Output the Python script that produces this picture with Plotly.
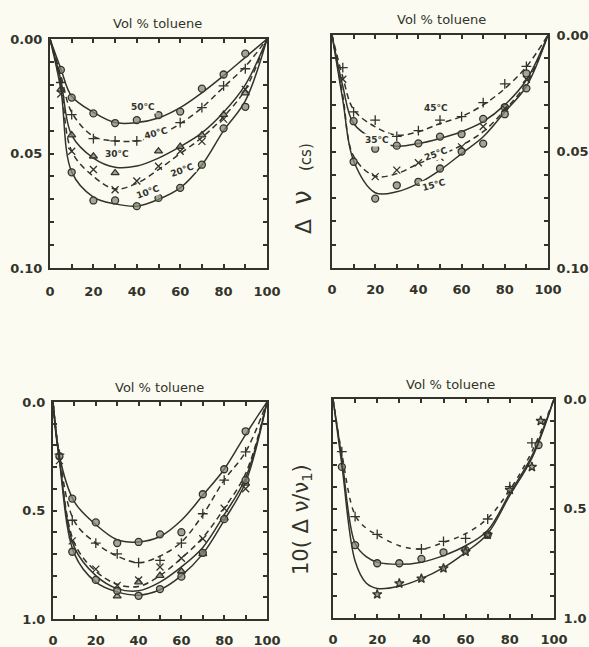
import plotly.graph_objects as go

# ---------------- data ----------------
# Panel A (top-left): delta nu (cs) vs vol % toluene, 10-50 C
xa_curve = [0, 5, 10, 20, 30, 40, 50, 60, 70, 80, 90, 100]
a50_curve = [0, 0.013, 0.025, 0.032, 0.0365, 0.0365, 0.0345, 0.030, 0.0235, 0.016, 0.008, 0]
a40_curve = [0, 0.016, 0.032, 0.0425, 0.0445, 0.0445, 0.042, 0.037, 0.030, 0.021, 0.012, 0]
a30_curve = [0, 0.018, 0.042, 0.052, 0.056, 0.0555, 0.052, 0.047, 0.041, 0.032, 0.020, 0]
a20_curve = [0, 0.020, 0.049, 0.060, 0.0655, 0.063, 0.057, 0.050, 0.043, 0.034, 0.022, 0]
a10_curve = [0, 0.022, 0.058, 0.069, 0.072, 0.073, 0.070, 0.065, 0.055, 0.040, 0.027, 0]

a50_px = [5, 10, 20, 30, 40, 50, 60, 70, 80, 90]
a50_py = [0.0135, 0.0256, 0.0325, 0.0367, 0.0354, 0.0332, 0.0317, 0.0217, 0.0155, 0.0064]
a40_px = [5, 10, 20, 30, 40, 60, 70, 80, 90]
a40_py = [0.019, 0.033, 0.0435, 0.0445, 0.0445, 0.0365, 0.030, 0.0205, 0.013]
a30_px = [5, 10, 20, 30, 50, 60, 70, 80, 90]
a30_py = [0.022, 0.042, 0.0512, 0.0585, 0.049, 0.047, 0.042, 0.033, 0.0236]
a20_px = [5, 10, 20, 30, 40, 50, 60, 70, 80, 90]
a20_py = [0.024, 0.049, 0.057, 0.0658, 0.062, 0.0556, 0.049, 0.0447, 0.035, 0.022]
a10_px = [10, 20, 30, 40, 50, 60, 70, 80, 90]
a10_py = [0.0582, 0.0705, 0.0705, 0.073, 0.0694, 0.065, 0.0549, 0.039, 0.0296]

# Panel B (top-right): delta nu (cs), 15-45 C
xb_curve = [0, 5, 10, 20, 30, 40, 50, 60, 70, 80, 90, 100]
b45_curve = [0, 0.018, 0.032, 0.0394, 0.043, 0.0415, 0.038, 0.035, 0.030, 0.023, 0.0136, 0]
b35_curve = [0, 0.022, 0.038, 0.045, 0.0477, 0.0466, 0.0444, 0.0415, 0.0372, 0.030, 0.0193, 0]
b25_curve = [0, 0.026, 0.052, 0.0606, 0.0595, 0.0552, 0.0516, 0.0473, 0.0415, 0.0322, 0.0208, 0]
b15_curve = [0, 0.028, 0.054, 0.0677, 0.0673, 0.0637, 0.058, 0.0509, 0.0437, 0.033, 0.022, 0]

b45_px = [5, 10, 20, 30, 40, 50, 60, 70, 80, 90]
b45_py = [0.014, 0.033, 0.0365, 0.0435, 0.041, 0.0365, 0.035, 0.0290, 0.021, 0.0135]
b35_px = [10, 20, 30, 40, 50, 60, 70, 80, 90]
b35_py = [0.037, 0.0488, 0.0475, 0.0465, 0.0436, 0.0425, 0.036, 0.031, 0.0165]
b25_px = [5, 20, 30, 40, 50, 60, 70, 80, 90]
b25_py = [0.019, 0.0608, 0.058, 0.0548, 0.0525, 0.048, 0.0393, 0.0315, 0.019]
b15_px = [10, 20, 30, 40, 50, 60, 70, 80, 90]
b15_py = [0.0544, 0.0702, 0.0645, 0.063, 0.0573, 0.050, 0.0466, 0.034, 0.0229]

# Panel C (bottom-left): 10(delta nu / nu1)
xc_curve = [0, 3, 10, 20, 30, 40, 50, 60, 70, 80, 90, 100]
c1_curve = [0, 0.25, 0.46, 0.565, 0.635, 0.645, 0.62, 0.545, 0.43, 0.31, 0.15, 0]
c2_curve = [0, 0.25, 0.55, 0.65, 0.71, 0.74, 0.71, 0.645, 0.52, 0.36, 0.23, 0]
c3_curve = [0, 0.26, 0.65, 0.78, 0.84, 0.85, 0.80, 0.72, 0.625, 0.49, 0.33, 0]
c4_curve = [0, 0.26, 0.67, 0.80, 0.86, 0.87, 0.83, 0.76, 0.67, 0.52, 0.35, 0]
c5_curve = [0, 0.27, 0.70, 0.83, 0.875, 0.89, 0.865, 0.80, 0.70, 0.545, 0.37, 0]

c1_px = [3, 9, 20, 30, 40, 50, 60, 70, 80, 90]
c1_py = [0.25, 0.445, 0.555, 0.65, 0.645, 0.61, 0.60, 0.425, 0.31, 0.135]
c2_px = [3, 9, 20, 30, 40, 50, 60, 70, 80, 90]
c2_py = [0.24, 0.545, 0.65, 0.70, 0.74, 0.73, 0.65, 0.515, 0.36, 0.23]
c3_px = [3, 9, 20, 30, 40, 50, 60, 70, 80, 90]
c3_py = [0.27, 0.64, 0.77, 0.845, 0.82, 0.76, 0.72, 0.63, 0.49, 0.40]
c4_px = [30, 40, 50, 60, 70, 80, 90]
c4_py = [0.895, 0.83, 0.80, 0.78, 0.70, 0.535, 0.375]
c5_px = [9, 20, 30, 40, 50, 60, 70, 80, 90]
c5_py = [0.69, 0.82, 0.87, 0.893, 0.862, 0.805, 0.695, 0.54, 0.36]

# Panel D (bottom-right): 10(delta nu / nu1)
xd_curve = [0, 4, 10, 15, 20, 30, 40, 50, 60, 70, 80, 90, 100]
d1_curve = [0, 0.25, 0.53, 0.59, 0.62, 0.67, 0.685, 0.655, 0.615, 0.545, 0.415, 0.24, 0]
d2_curve = [0, 0.27, 0.66, 0.72, 0.745, 0.755, 0.745, 0.715, 0.67, 0.60, 0.43, 0.26, 0]
d3_curve = [0, 0.30, 0.74, 0.84, 0.865, 0.855, 0.82, 0.77, 0.70, 0.615, 0.44, 0.27, 0]

d1_px = [4, 10, 20, 40, 50, 60, 70, 80, 90]
d1_py = [0.24, 0.537, 0.618, 0.685, 0.65, 0.636, 0.548, 0.40, 0.20]
d2_px = [4, 10, 20, 30, 40, 50, 60, 70, 93]
d2_py = [0.31, 0.667, 0.75, 0.75, 0.73, 0.70, 0.69, 0.62, 0.21]
d3_px = [20, 30, 40, 50, 60, 70, 80, 90, 94]
d3_py = [0.892, 0.842, 0.82, 0.773, 0.697, 0.62, 0.415, 0.31, 0.10]

x_ticks = [0, 10, 20, 30, 40, 50, 60, 70, 80, 90, 100]
x_ticktext = ["0", "", "20", "", "40", "", "60", "", "80", "", "100"]
yab_ticks = [0, 0.01, 0.02, 0.03, 0.04, 0.05, 0.06, 0.07, 0.08, 0.09, 0.10]
yab_ticktext = ["0.00", "", "", "", "", "0.05", "", "", "", "", "0.10"]
ycd_ticks = [0, 0.1, 0.2, 0.3, 0.4, 0.5, 0.6, 0.7, 0.8, 0.9, 1.0]
ycd_ticktext = ["0.0", "", "", "", "", "0.5", "", "", "", "", "1.0"]

title_text = "Vol % toluene"

# ---------------- style ----------------
INK = "#32342b"
PAPER = "#fbfbf2"
W, H = 589, 647
NB = "\u00a0"

fig = go.Figure()

def add_series(xc, yc, px, py, ax, dash, symbol):
    xa = "x" if ax == 1 else f"x{ax}"
    ya = "y" if ax == 1 else f"y{ax}"
    fig.add_trace(go.Scatter(x=xc, y=yc, mode="lines", xaxis=xa, yaxis=ya,
                             line=dict(color=INK, width=1.5, dash=dash, shape="spline", smoothing=1.0),
                             hoverinfo="skip", showlegend=False))
    open_sym = symbol.endswith("-thin")
    fig.add_trace(go.Scatter(x=px, y=py, mode="markers", xaxis=xa, yaxis=ya,
                             marker=dict(symbol=symbol, size=7,
                                         color=INK if open_sym else "rgba(135,137,118,0.75)",
                                         line=dict(color=INK, width=1.3)),
                             showlegend=False))

D = "6px,4px"
add_series(xa_curve, a50_curve, a50_px, a50_py, 1, "solid", "circle")
add_series(xa_curve, a40_curve, a40_px, a40_py, 1, D, "cross-thin")
add_series(xa_curve, a30_curve, a30_px, a30_py, 1, "solid", "triangle-up")
add_series(xa_curve, a20_curve, a20_px, a20_py, 1, D, "x-thin")
add_series(xa_curve, a10_curve, a10_px, a10_py, 1, "solid", "circle")

add_series(xb_curve, b45_curve, b45_px, b45_py, 2, D, "cross-thin")
add_series(xb_curve, b35_curve, b35_px, b35_py, 2, "solid", "circle")
add_series(xb_curve, b25_curve, b25_px, b25_py, 2, D, "x-thin")
add_series(xb_curve, b15_curve, b15_px, b15_py, 2, "solid", "circle")

add_series(xc_curve, c1_curve, c1_px, c1_py, 3, "solid", "circle")
add_series(xc_curve, c2_curve, c2_px, c2_py, 3, D, "cross-thin")
add_series(xc_curve, c3_curve, c3_px, c3_py, 3, D, "x-thin")
add_series(xc_curve, c4_curve, c4_px, c4_py, 3, "solid", "triangle-up")
add_series(xc_curve, c5_curve, c5_px, c5_py, 3, "solid", "circle")

add_series(xd_curve, d1_curve, d1_px, d1_py, 4, "5px,5px", "cross-thin")
add_series(xd_curve, d2_curve, d2_px, d2_py, 4, "solid", "circle")
add_series(xd_curve, d3_curve, d3_px, d3_py, 4, "solid", "star")

tick_font = dict(family="DejaVu Sans", size=13, color=INK, weight="bold")

def xaxis_cfg(x0, x1, standoff):
    return dict(domain=[x0 / W, x1 / W], range=[0, 100], tickvals=x_ticks, ticktext=x_ticktext,
                ticks="inside", ticklen=4, tickwidth=1.5, tickcolor=INK, mirror="ticks",
                showline=True, linewidth=2, linecolor=INK, showgrid=False, zeroline=False,
                tickfont=tick_font, ticklabelstandoff=standoff, fixedrange=True, automargin=False)

def yaxis_cfg(y0, y1, rng, tv, tt, side, standoff, anchor):
    return dict(domain=[1 - y1 / H, 1 - y0 / H], range=rng, tickvals=tv, ticktext=tt, side=side,
                ticks="inside", ticklen=4, tickwidth=1.5, tickcolor=INK, mirror="ticks",
                showline=True, linewidth=2, linecolor=INK, showgrid=False, zeroline=False,
                tickfont=tick_font, ticklabelstandoff=standoff, anchor=anchor, fixedrange=True,
                automargin=False)

fig.update_layout(
    width=W, height=H, margin=dict(l=0, r=0, t=0, b=0, pad=0, autoexpand=False),
    paper_bgcolor=PAPER, plot_bgcolor=PAPER, showlegend=False,
    xaxis=dict(xaxis_cfg(50, 267, 10), anchor="y"),
    yaxis=yaxis_cfg(39, 268, [0.10, 0], yab_ticks, yab_ticktext, "left", 3, "x"),
    xaxis2=dict(xaxis_cfg(332, 548, 8), anchor="y2"),
    yaxis2=yaxis_cfg(35, 268, [0.10, 0], yab_ticks, yab_ticktext, "right", 4, "x2"),
    xaxis3=dict(xaxis_cfg(53, 267, 8), anchor="y3"),
    yaxis3=yaxis_cfg(402, 619, [1.0, 0], ycd_ticks, ycd_ticktext, "left", 3, "x3"),
    xaxis4=dict(xaxis_cfg(333, 554, 8), anchor="y4"),
    yaxis4=yaxis_cfg(399, 618, [1.0, 0], ycd_ticks, ycd_ticktext, "right", 5, "x4"),
)

ann = []
title_font = dict(family="DejaVu Sans", size=13, color=INK)
for cx, cy in [(157, 23), (441, 19), (159, 387), (450, 384)]:
    ann.append(dict(text=title_text, x=cx / W, y=1 - cy / H, xref="paper", yref="paper",
                    xanchor="center", yanchor="middle", showarrow=False, font=title_font))

lab_font = dict(family="DejaVu Sans", size=9, color=INK, weight="bold")
for txt, lx, ly, ang, ax in [("50°C", 43, 0.0297, 0, 1), ("40°C", 49, 0.041, -15, 1),
                             ("30°C", 31, 0.0502, 0, 1), ("20°C", 61, 0.057, -20, 1),
                             ("10°C", 45, 0.0667, -20, 1),
                             ("45°C", 48, 0.0315, 0, 2), ("35°C", 21, 0.045, 0, 2),
                             ("25°C", 48, 0.051, -20, 2), ("15°C", 47, 0.0644, -15, 2)]:
    ann.append(dict(text=txt, x=lx, y=ly, xref="x" if ax == 1 else "x2", yref="y" if ax == 1 else "y2",
                    showarrow=False, textangle=ang, font=lab_font, bgcolor=PAPER))

ann.append(dict(text="<span style='font-size:22px'>Δ</span>" + NB * 3 +
                     "<span style='font-size:26px'>ν</span>" + NB * 4 + "(cs)",
                x=302 / W, y=1 - 189 / H, xref="paper", yref="paper", textangle=-90,
                xanchor="center", yanchor="middle", showarrow=False,
                font=dict(family="DejaVu Sans", size=15, color=INK)))
ann.append(dict(text="10(" + NB + "Δ" + NB + "ν/ν<sub>1</sub>)",
                x=302 / W, y=1 - 520 / H, xref="paper", yref="paper", textangle=-90,
                xanchor="center", yanchor="middle", showarrow=False,
                font=dict(family="DejaVu Sans", size=21, color=INK)))
fig.update_layout(annotations=ann)

fig.write_html("out.html", config={"displayModeBar": False},
               post_script="document.body.style.margin='0';document.body.style.background='" + PAPER + "';")
